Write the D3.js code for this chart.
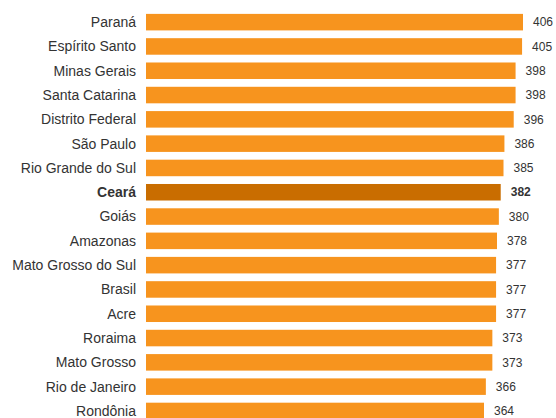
<!DOCTYPE html>
<html>
<head>
<meta charset="utf-8">
<script src="https://cdn.jsdelivr.net/npm/d3@7"></script>
<style>
  body { margin: 0; background: #fff; }
  text { font-family: Arial, "Liberation Sans", sans-serif; fill: #333; }
</style>
</head>
<body>
<svg id="chart" width="556" height="418"></svg>
<script>
// estados e notas médias
const states = ['Paraná', 'Espírito Santo', 'Minas Gerais', 'Santa Catarina', 'Distrito Federal',
    'São Paulo', 'Rio Grande do Sul', 'Ceará', 'Goiás', 'Amazonas', 'Mato Grosso do Sul',
    'Brasil', 'Acre', 'Roraima', 'Mato Grosso', 'Rio de Janeiro', 'Rondônia'];
const scores = [406, 405, 398, 398, 396, 386, 385, 382, 380, 378, 377, 377, 377, 373, 373, 366, 364];
const highlight = 'Ceará';

const BAR_COLOR = '#f7941e';
const HIGHLIGHT_COLOR = '#c96d00';
const LABEL_GAP = 10;

const svg = d3.select('#chart');
const rows = states.map((s, i) => ({state: s, score: scores[i]}));

const x = d3.scaleLinear()
    .domain([0, d3.max(scores)])
    .range([146, 523]);

const y = d3.scaleBand()
    .domain(states)
    .range([10, 10 + 24.3 * states.length])
    .paddingInner(0.32)
    .paddingOuter(0.16);

const row = svg.selectAll('g.row')
    .data(rows)
    .enter()
    .append('g')
    .classed('row', true);

row.append('rect')
    .attr('x', x(0))
    .attr('y', d => y(d.state))
    .attr('width', d => x(d.score) - x(0))
    .attr('height', y.bandwidth())
    .attr('fill', d => d.state === highlight ? HIGHLIGHT_COLOR : BAR_COLOR);

row.append('text')
    .attr('x', x(0) - LABEL_GAP)
    .attr('y', d => y(d.state) + y.bandwidth() / 2)
    .attr('dy', '0.35em')
    .attr('text-anchor', 'end')
    .style('font-size', '14px')
    .style('font-weight', d => d.state === highlight ? 'bold' : 'normal')
    .text(d => d.state);

row.append('text')
    .attr('x', d => x(d.score) + LABEL_GAP)
    .attr('y', d => y(d.state) + y.bandwidth() / 2)
    .attr('dy', '0.35em')
    .style('font-size', '12px')
    .style('font-weight', d => d.state === highlight ? 'bold' : 'normal')
    .text(d => d.score);
</script>
</body>
</html>
